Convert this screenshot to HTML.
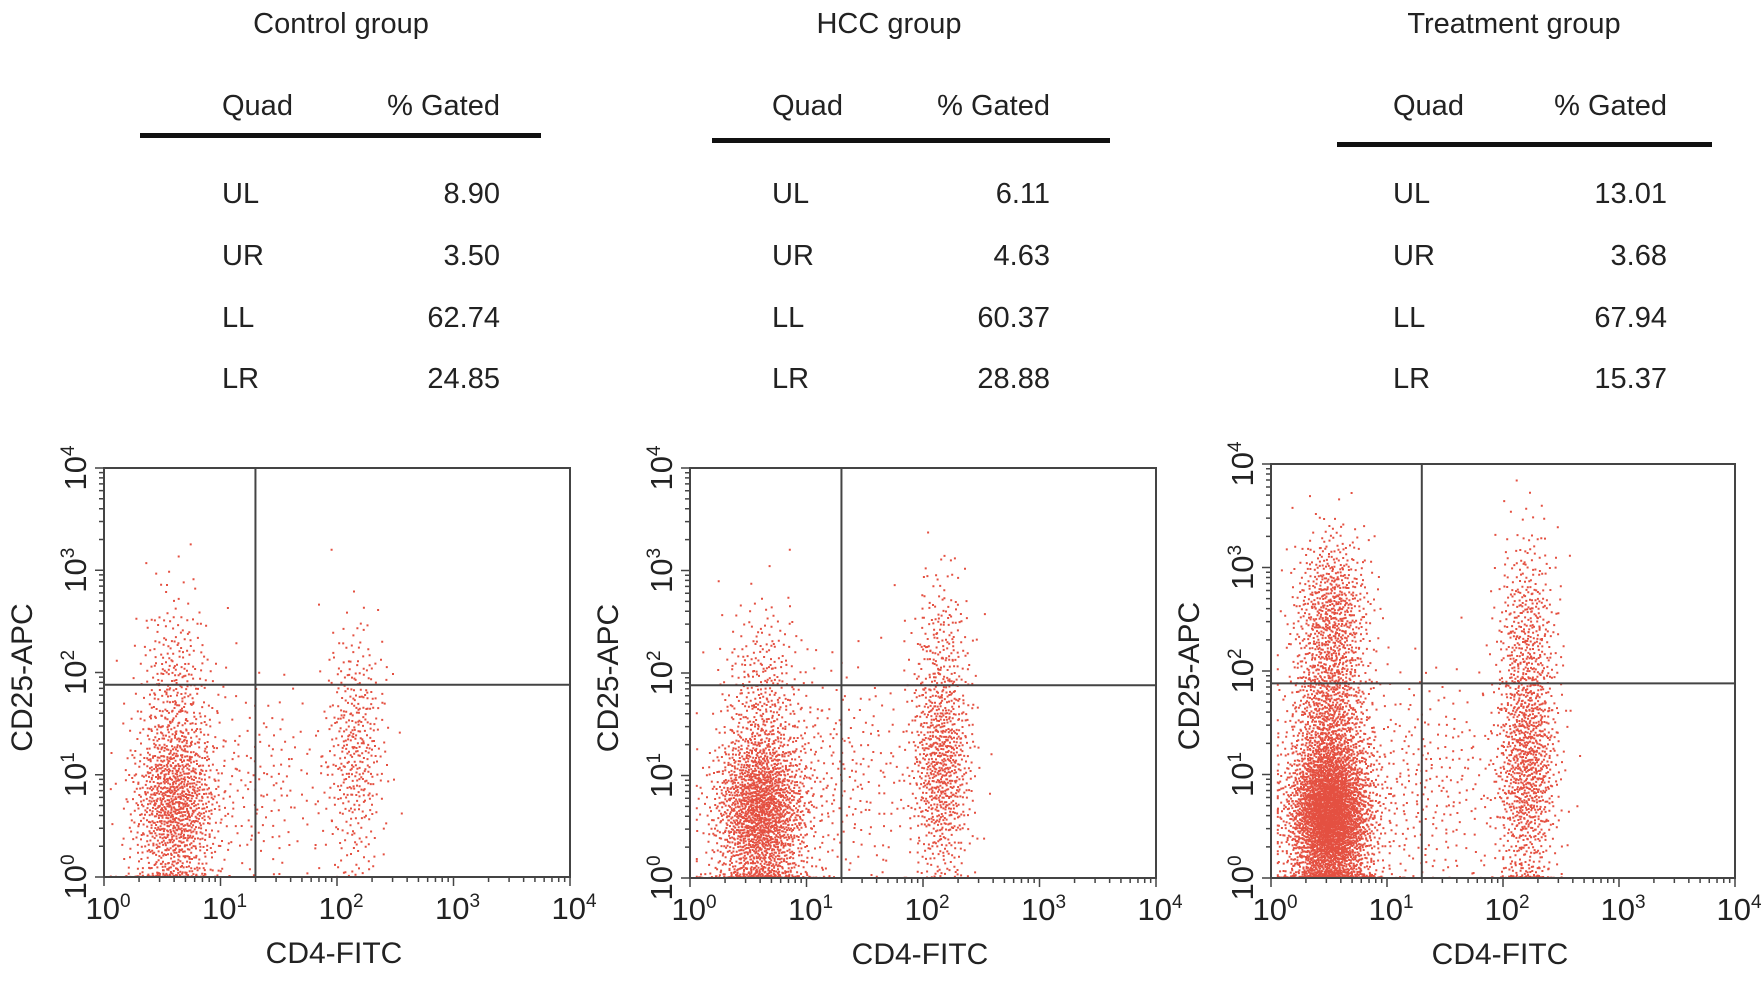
<!DOCTYPE html>
<html><head><meta charset="utf-8"><style>
body{margin:0;background:#fff;width:1764px;height:983px;position:relative;overflow:hidden;font-family:"Liberation Sans",sans-serif;color:#222}
.t{position:absolute;white-space:nowrap;font-size:29px}
.line{position:absolute;height:5px;background:#111}
</style></head><body>
<svg id="svg" width="1764" height="983" style="position:absolute;left:0;top:0"></svg>
<script>
// table data
const groups=["Control group","HCC group","Treatment group"];
const quads=["UL","UR","LL","LR"];
const gatedControl=[8.90,3.50,62.74,24.85];
const gatedHCC=[6.11,4.63,60.37,28.88];
const gatedTreatment=[13.01,3.68,67.94,15.37];
const gateX=[1.3,1.3,1.3]; // log10 CD4 gate
const gateY=[1.88,1.88,1.88]; // log10 CD25 gate
// cluster data: [log x center, x sd, log y center, y sd, count]
const clustersControl=[[0.6,0.18,0.7,0.42,1100],[0.6,0.16,1.8,0.5,320],[2.15,0.13,1.25,0.6,400],[1.3,0.35,0.9,0.5,190],[0.5,0.22,0.0,0.01,60]];
const clustersHCC=[[0.6,0.2,0.65,0.42,1900],[0.62,0.18,1.8,0.45,300],[2.15,0.13,1.1,0.55,800],[2.15,0.13,2.3,0.4,150],[1.3,0.35,1.0,0.55,250],[0.6,0.28,0.0,0.01,130]];
const clustersTreatment=[[0.5,0.18,0.6,0.38,3300],[0.5,0.17,1.6,0.45,900],[0.52,0.16,2.6,0.38,600],[2.2,0.13,1.1,0.6,1000],[2.2,0.13,2.4,0.5,350],[1.3,0.4,0.9,0.55,320],[0.5,0.22,0.0,0.01,260],[2.2,0.12,0.0,0.01,60]];
const ticks=[0,1,2,3,4];
const panels=[{x0:104,x1:570,y0:468,y1:877,cl:clustersControl},{x0:690,x1:1156,y0:468,y1:878,cl:clustersHCC},{x0:1271,x1:1735,y0:464,y1:878,cl:clustersTreatment}];
const tables=[{c:341,lx:222,rx:500,ly:135,l0:140,l1:541,ty:[195,257,319,380],v:gatedControl},{c:889,lx:772,rx:1050,ly:140,l0:712,l1:1110,ty:[195,257,319,380],v:gatedHCC},{c:1514,lx:1393,rx:1667,ly:144,l0:1337,l1:1712,ty:[195,257,319,380],v:gatedTreatment}];
const NS="http://www.w3.org/2000/svg",svg=document.getElementById('svg');
function mk(tag,a,p){const e=document.createElementNS(NS,tag);for(const k in a)e.setAttribute(k,a[k]);(p||svg).appendChild(e);return e;}
function halton(i,b){let f=1,r=0;while(i>0){f/=b;r+=f*(i%b);i=Math.floor(i/b);}return r;}
let body=document.body;
function txt(s,x,y,name,align){const d=document.createElement('div');d.className='t';d.textContent=s;d.style.top=(y-17)+'px';
 if(align==='c'){d.style.left=(x-200)+'px';d.style.width='400px';d.style.textAlign='center';}
 else if(align==='r'){d.style.left=(x-200)+'px';d.style.width='200px';d.style.textAlign='right';}
 else d.style.left=x+'px';
 body.appendChild(d);}
tables.forEach((t,gi)=>{
 txt(groups[gi],t.c,25,'group-title','c');
 txt("Quad",t.lx,107,'quad-header');
 txt("% Gated",t.rx,107,'gated-header','r');
 const l=document.createElement('div');l.className='line';l.style.left=t.l0+'px';l.style.width=(t.l1-t.l0)+'px';l.style.top=(t.ly-2)+'px';
 body.appendChild(l);
 quads.forEach((q,i)=>{txt(q,t.lx,t.ty[i],'quad-label');txt(t.v[i].toFixed(2),t.rx,t.ty[i],'gated-value','r');});
});
panels.forEach((p,pi)=>{
 const g=mk('g',{});
 
 
 const sx=v=>p.x0+(p.x1-p.x0)*v/4, sy=v=>p.y1-(p.y1-p.y0)*v/4;
 let idx=1;let pts='';
 p.cl.forEach(c=>{for(let k=0;k<c[4];k++,idx++){
  const u1=Math.max(halton(idx+pi*7919,2),1e-4),u2=halton(idx+pi*7919,3);
  const rr=Math.sqrt(-2*Math.log(u1));
  let lx=c[0]+c[1]*rr*Math.cos(2*Math.PI*u2), ly=c[2]+c[3]*rr*Math.sin(2*Math.PI*u2);
  if(ly<0)ly=Math.abs(ly)*0.3; if(lx<0.05)lx=0.05; if(ly>3.95)continue; if(lx>3.95)continue;
  pts+=`M${sx(lx).toFixed(1)} ${sy(ly).toFixed(1)}h2`;}});
 const path=mk('path',{d:pts,stroke:'#dd2411','stroke-width':2,'stroke-opacity':0.8},g);
 
 
 const box=mk('rect',{x:p.x0,y:p.y0,width:p.x1-p.x0,height:p.y1-p.y0,fill:'none',stroke:'#444','stroke-width':2},g);
 
 
 const vg=mk('line',{x1:sx(gateX[pi]),x2:sx(gateX[pi]),y1:p.y0,y2:p.y1,stroke:'#444','stroke-width':2},g);
 
 
 const hg=mk('line',{x1:p.x0,x2:p.x1,y1:sy(gateY[pi]),y2:sy(gateY[pi]),stroke:'#444','stroke-width':2},g);
 
 
 let tk='';
 for(let d=0;d<4;d++)for(let m=1;m<10;m++){const v=d+Math.log10(m);const len=m===1?9:5;
  tk+=`M${sx(v)} ${p.y1}v${len}M${p.x0} ${sy(v)}h${-len}`;}
 tk+=`M${sx(4)} ${p.y1}v9M${p.x0} ${sy(4)}h-9`;
 const tp=mk('path',{d:tk,stroke:'#444','stroke-width':1.5,fill:'none'},g);
 
 
 ticks.forEach(t=>{
  const xl=mk('text',{x:sx(t)+4,y:p.y1+42,'text-anchor':'middle','font-size':31,fill:'#222'},g);
  
  
  xl.innerHTML=`10<tspan dy="-12" font-size="19">${t}</tspan>`;
  const yl=mk('text',{transform:`translate(${p.x0-18},${sy(t)}) rotate(-90)`,'text-anchor':'middle','font-size':31,fill:'#222'},g);
  
  
  yl.innerHTML=`10<tspan dy="-12" font-size="19">${t}</tspan>`;
 });
 const xt=mk('text',{x:(p.x0+p.x1)/2-3,y:p.y1+86,'text-anchor':'middle','font-size':30,fill:'#222'},g);
 
 
 xt.textContent='CD4-FITC';
 const yt=mk('text',{transform:`translate(${p.x0-72},${(p.y0+p.y1)/2+5}) rotate(-90)`,'text-anchor':'middle','font-size':30,fill:'#222'},g);
 
 
 yt.textContent='CD25-APC';
});
</script>
</body></html>
